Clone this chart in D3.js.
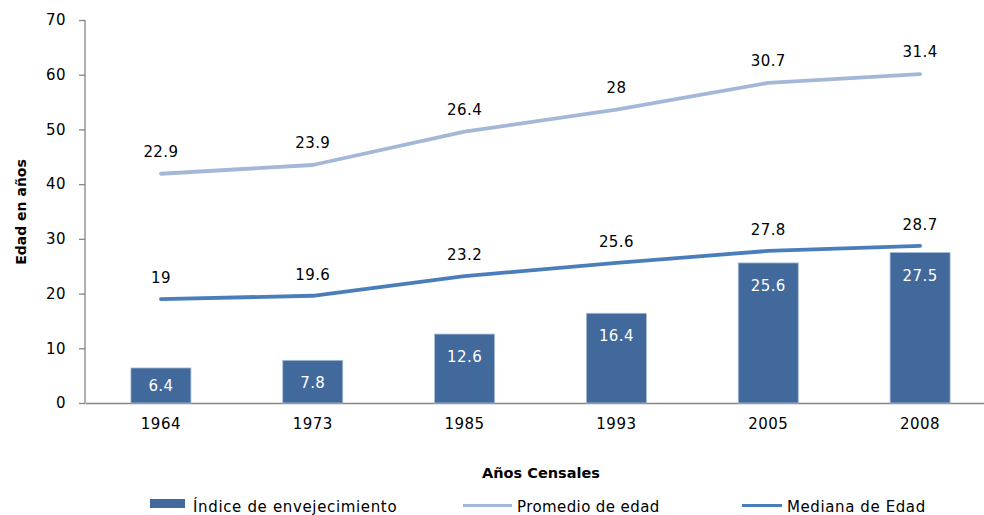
<!DOCTYPE html>
<html><head><meta charset="utf-8">
<script src="https://cdn.jsdelivr.net/npm/d3@7"></script>
<style>body{margin:0;background:#fff}svg{display:block}text{font-family:"DejaVu Sans",Verdana,sans-serif}</style>
</head><body><svg id="c" width="984" height="515"></svg>
<script>
const years = ["1964","1973","1985","1993","2005","2008"];
const indice = [6.4, 7.8, 12.6, 16.4, 25.6, 27.5];
const mediana = [19, 19.6, 23.2, 25.6, 27.8, 28.7];
const promedio = [22.9, 23.9, 26.4, 28, 30.7, 31.4];
const yTicks = [0, 10, 20, 30, 40, 50, 60, 70];
const seriesNames = ["Índice de envejecimiento", "Promedio de edad", "Mediana de Edad"];
const colors = {bar: "#41699B", prom: "#A5B7D7", med: "#4A7EBB"};

const svg = d3.select("#c");
const x = d3.scaleBand().domain(years).range([85, 996]);
const y = d3.scaleLinear().domain([0, 70]).range([403, 20]);
const bw = 60;
const fs = 15;

// axes
const ya = svg.append("g").attr("transform", "translate(85,0)")
  .call(d3.axisLeft(y).tickValues(yTicks).tickSize(6).tickPadding(13).tickFormat(d3.format("d")));
ya.selectAll("line,path").attr("stroke", "#868686").attr("stroke-width", 1.3);
ya.select("path").attr("d", "M0,20V403");
ya.selectAll("text").attr("font-size", 15).attr("fill", "#000").attr("font-family", "DejaVu Sans").attr("letter-spacing", 0.4);

const xa = svg.append("g").attr("transform", "translate(0,403)")
  .call(d3.axisBottom(x).tickSize(0).tickPadding(15));
xa.select("path").attr("stroke", "#868686").attr("stroke-width", 1.3);
xa.selectAll("text").attr("font-size", 15).attr("fill", "#000").attr("font-family", "DejaVu Sans").attr("letter-spacing", 0.5);

// bars
const cx = d => x(d) + x.bandwidth() / 2;
svg.append("g").selectAll("rect").data(years).join("rect")
  .attr("x", d => cx(d) - bw / 2).attr("width", bw)
  .attr("y", (d, i) => y(indice[i])).attr("height", (d, i) => y(0) - y(indice[i]))
  .attr("fill", colors.bar).attr("stroke", "#A7BBD9").attr("stroke-width", 0.8);
svg.append("g").selectAll("text").data(years).join("text")
  .attr("x", cx).attr("text-anchor", "middle").attr("font-size", fs).attr("fill", "#fff").attr("letter-spacing", 0.4)
  .attr("y", (d, i) => Math.min(y(indice[i]) + 28, (y(indice[i]) + y(0)) / 2 + 6))
  .text((d, i) => indice[i]);

// lines
const stacked = promedio.map((v, i) => v + mediana[i]);
const line = d3.line().x((d, i) => cx(years[i])).y(d => y(d));
svg.append("path").datum(stacked).attr("d", line).attr("fill", "none")
  .attr("stroke", colors.prom).attr("stroke-width", 3.8).attr("stroke-linecap", "round").attr("stroke-linejoin", "round");
svg.append("path").datum(mediana).attr("d", line).attr("fill", "none")
  .attr("stroke", colors.med).attr("stroke-width", 3.8).attr("stroke-linecap", "round").attr("stroke-linejoin", "round");

svg.append("g").selectAll("text").data(years).join("text")
  .attr("x", cx).attr("text-anchor", "middle").attr("font-size", fs).attr("fill", "#000").attr("letter-spacing", 0.4)
  .attr("y", (d, i) => y(stacked[i]) - 17).text((d, i) => promedio[i]);
svg.append("g").selectAll("text").data(years).join("text")
  .attr("x", cx).attr("text-anchor", "middle").attr("font-size", fs).attr("fill", "#000").attr("letter-spacing", 0.4)
  .attr("y", (d, i) => y(mediana[i]) - 16).text((d, i) => mediana[i]);

// axis titles
svg.append("text").attr("x", 541).attr("y", 478).attr("text-anchor", "middle")
  .attr("font-size", 14.5).attr("font-weight", "bold").text("Años Censales");
svg.append("text").attr("transform", "translate(26,212) rotate(-90)").attr("text-anchor", "middle")
  .attr("font-size", 14).attr("font-weight", "bold").text("Edad en años");

// legend
const lg = svg.append("g");
lg.append("rect").attr("x", 150).attr("y", 499).attr("width", 35).attr("height", 9).attr("fill", colors.bar);
lg.append("text").attr("x", 193).attr("y", 512).attr("font-size", 15).attr("letter-spacing", 0.65).text(seriesNames[0]);
lg.append("line").attr("x1", 463).attr("x2", 512).attr("y1", 505.5).attr("y2", 505.5).attr("stroke", colors.prom).attr("stroke-width", 3);
lg.append("text").attr("x", 517).attr("y", 512).attr("font-size", 15).attr("letter-spacing", 0.4).text(seriesNames[1]);
lg.append("line").attr("x1", 742).attr("x2", 782).attr("y1", 505.5).attr("y2", 505.5).attr("stroke", colors.med).attr("stroke-width", 3);
lg.append("text").attr("x", 787).attr("y", 512).attr("font-size", 15).attr("letter-spacing", 0.6).text(seriesNames[2]);
</script></body></html>
